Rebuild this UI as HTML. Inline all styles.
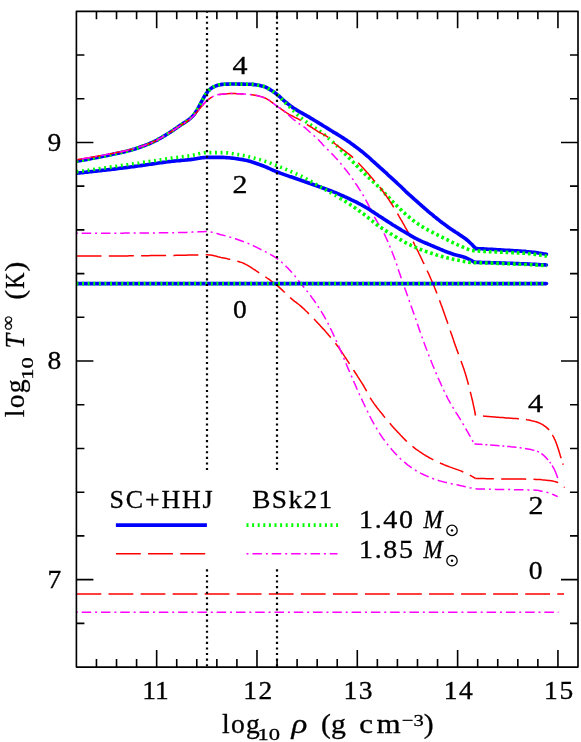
<!DOCTYPE html>
<html><head><meta charset="utf-8"><title>Cooling curves</title>
<style>html,body{margin:0;padding:0;background:#fff;}svg{display:block;will-change:transform;}text{font-family:"Liberation Serif",serif;fill:#000;}.i{font-style:italic;}</style></head><body>
<svg width="581" height="742" viewBox="0 0 581 742">
<rect x="0" y="0" width="581" height="742" fill="#ffffff"/>
<clipPath id="pc"><rect x="76.4" y="11.3" width="501.6" height="655.8"/></clipPath>
<g fill="none" stroke-linecap="butt" stroke-linejoin="round" clip-path="url(#pc)">
<path d="M76.5 161.3 L78.0 161.0 L79.5 160.8 L81.0 160.5 L82.4 160.3 L83.9 160.0 L85.4 159.7 L86.9 159.5 L88.4 159.2 L89.9 158.9 L91.4 158.6 L92.8 158.3 L94.3 158.1 L95.8 157.8 L97.3 157.5 L98.8 157.2 L100.2 156.9 L101.7 156.6 L103.2 156.3 L104.7 156.0 L106.1 155.7 L107.6 155.4 L109.1 155.1 L110.6 154.8 L112.0 154.4 L113.5 154.1 L115.0 153.8 L116.5 153.5 L118.0 153.2 L119.4 152.9 L120.9 152.6 L122.4 152.2 L123.9 151.9 L125.3 151.5 L126.8 151.2 L128.3 150.8 L129.7 150.4 L131.2 150.0 L132.6 149.6 L134.0 149.2 L135.5 148.8 L136.9 148.3 L138.4 147.8 L139.8 147.3 L141.2 146.8 L142.6 146.3 L144.1 145.8 L145.5 145.2 L146.9 144.6 L148.3 144.1 L149.7 143.5 L151.0 142.9 L152.4 142.3 L153.8 141.7 L155.1 141.0 L156.5 140.3 L157.8 139.6 L159.1 138.9 L160.4 138.2 L161.8 137.4 L163.1 136.6 L164.4 135.8 L165.7 135.1 L166.9 134.3 L168.2 133.5 L169.5 132.7 L170.8 131.9 L172.0 131.0 L173.3 130.2 L174.5 129.3 L175.8 128.5 L177.0 127.6 L178.2 126.7 L179.5 125.9 L180.7 125.0 L182.0 124.2 L183.2 123.4 L184.5 122.6 L185.8 121.7 L187.0 120.9 L188.3 120.0 L189.4 119.1 L190.6 118.1 L191.7 117.1 L192.8 116.0 L193.8 114.9 L194.7 113.7 L195.5 112.4 L196.4 111.2 L197.2 109.9 L197.9 108.6 L198.7 107.3 L199.3 105.9 L200.0 104.6 L200.7 103.2 L201.4 101.9 L202.1 100.6 L202.9 99.2 L203.6 97.9 L204.3 96.5 L205.1 95.2 L205.9 94.0 L206.8 92.8 L207.7 91.6 L208.8 90.5 L209.9 89.4 L211.1 88.4 L212.3 87.6 L213.6 86.9 L214.9 86.3 L216.4 85.7 L217.8 85.2 L219.3 84.8 L220.8 84.6 L222.3 84.4 L223.8 84.3 L225.3 84.2 L226.8 84.1 L228.3 84.1 L229.8 84.0 L231.3 84.0 L232.8 84.0 L234.4 84.0 L235.9 84.0 L237.4 84.0 L238.9 84.1 L240.4 84.1 L241.9 84.1 L243.4 84.1 L244.9 84.2 L246.4 84.2 L247.9 84.2 L249.4 84.3 L250.9 84.3 L252.5 84.4 L254.0 84.6 L255.5 84.8 L257.0 85.0 L258.5 85.3 L260.0 85.6 L261.5 85.9 L262.9 86.3 L264.3 86.6 L265.7 87.2 L267.1 87.9 L268.4 88.6 L269.7 89.4 L271.0 90.2 L272.3 91.0 L273.5 91.8 L274.8 92.7 L276.0 93.6 L277.2 94.5 L278.3 95.5 L279.5 96.5 L280.6 97.5 L281.7 98.5 L282.8 99.6 L283.9 100.6 L285.1 101.6 L286.2 102.5 L287.4 103.5 L288.6 104.4 L289.8 105.4 L291.0 106.3 L292.2 107.1 L293.4 108.0 L294.7 108.8 L296.0 109.6 L297.2 110.4 L298.5 111.2 L299.8 111.9 L301.2 112.7 L302.5 113.4 L303.8 114.1 L305.1 114.8 L306.5 115.6 L307.8 116.3 L309.1 117.1 L310.4 117.9 L311.6 118.7 L312.9 119.4 L314.2 120.2 L315.5 121.0 L316.8 121.8 L318.1 122.6 L319.4 123.4 L320.7 124.1 L322.0 124.9 L323.2 125.7 L324.5 126.5 L325.8 127.3 L327.1 128.1 L328.4 128.9 L329.7 129.7 L330.9 130.5 L332.2 131.3 L333.5 132.1 L334.8 132.8 L336.1 133.6 L337.4 134.4 L338.7 135.2 L340.0 136.0 L341.2 136.8 L342.5 137.6 L343.8 138.4 L345.0 139.2 L346.3 140.1 L347.5 140.9 L348.8 141.8 L350.0 142.6 L351.2 143.5 L352.5 144.4 L353.7 145.3 L354.9 146.2 L356.1 147.1 L357.3 148.0 L358.5 148.9 L359.7 149.8 L360.9 150.8 L362.1 151.7 L363.3 152.7 L364.4 153.6 L365.6 154.6 L366.7 155.6 L367.9 156.5 L369.0 157.5 L370.1 158.5 L371.2 159.6 L372.3 160.6 L373.5 161.6 L374.6 162.6 L375.7 163.6 L376.8 164.7 L377.9 165.7 L379.0 166.7 L380.1 167.7 L381.3 168.7 L382.4 169.7 L383.5 170.7 L384.6 171.7 L385.8 172.7 L386.9 173.7 L388.0 174.8 L389.1 175.8 L390.3 176.8 L391.4 177.8 L392.5 178.8 L393.6 179.8 L394.7 180.8 L395.8 181.9 L396.9 182.9 L398.0 184.0 L399.1 185.0 L400.2 186.0 L401.3 187.1 L402.3 188.1 L403.4 189.2 L404.5 190.2 L405.6 191.3 L406.7 192.3 L407.8 193.3 L408.9 194.3 L410.1 195.3 L411.2 196.4 L412.3 197.4 L413.4 198.4 L414.5 199.4 L415.7 200.4 L416.8 201.4 L417.9 202.4 L419.0 203.4 L420.2 204.4 L421.3 205.4 L422.4 206.4 L423.6 207.4 L424.7 208.4 L425.9 209.4 L427.0 210.3 L428.1 211.3 L429.3 212.3 L430.5 213.3 L431.6 214.2 L432.8 215.2 L433.9 216.2 L435.1 217.1 L436.3 218.0 L437.5 219.0 L438.7 219.9 L439.8 220.8 L441.0 221.8 L442.2 222.7 L443.5 223.6 L444.7 224.5 L445.9 225.4 L447.1 226.3 L448.3 227.2 L449.5 228.0 L450.8 228.9 L452.0 229.7 L453.3 230.6 L454.6 231.4 L455.8 232.2 L457.1 233.0 L458.3 233.9 L459.6 234.7 L460.8 235.6 L462.1 236.4 L463.3 237.3 L464.6 238.1 L465.8 239.0 L467.0 240.0 L468.1 240.9 L469.2 241.9 L470.3 243.0 L471.4 244.0 L472.5 245.1 L473.5 246.2 L474.5 247.3 L475.5 248.5" stroke="#0000ff" stroke-width="3.6" stroke-linecap="round"/>
<path d="M475.5 248.5 L477.0 248.6 L478.6 248.7 L480.1 248.7 L481.7 248.8 L483.2 248.9 L484.8 249.0 L486.3 249.1 L487.9 249.2 L489.4 249.2 L491.0 249.3 L492.5 249.4 L494.0 249.5 L495.6 249.6 L497.1 249.7 L498.7 249.8 L500.2 249.9 L501.8 250.0 L503.3 250.1 L504.9 250.2 L506.4 250.2 L507.9 250.3 L509.5 250.4 L511.0 250.5 L512.6 250.6 L514.1 250.7 L515.7 250.8 L517.2 250.9 L518.8 251.0 L520.3 251.1 L521.9 251.2 L523.4 251.3 L524.9 251.4 L526.5 251.6 L528.0 251.7 L529.5 251.9 L531.1 252.0 L532.6 252.2 L534.2 252.4 L535.7 252.6 L537.2 252.8 L538.8 253.1 L540.3 253.3 L541.8 253.5 L543.3 253.8 L544.9 254.0 L546.4 254.3" stroke="#0000ff" stroke-width="3.6" stroke-linecap="round"/>
<path d="M76.5 161.3 L78.0 161.0 L79.5 160.8 L81.0 160.5 L82.4 160.3 L83.9 160.0 L85.4 159.7 L86.9 159.5 L88.4 159.2 L89.9 158.9 L91.3 158.6 L92.8 158.3 L94.3 158.1 L95.8 157.8 L97.3 157.5 L98.7 157.2 L100.2 156.9 L101.7 156.6 L103.2 156.3 L104.7 156.0 L106.1 155.7 L107.6 155.4 L109.1 155.1 L110.6 154.8 L112.0 154.4 L113.5 154.1 L115.0 153.8 L116.5 153.5 L117.9 153.2 L119.4 152.9 L120.9 152.6 L122.4 152.2 L123.8 151.9 L125.3 151.5 L126.8 151.2 L128.2 150.8 L129.7 150.4 L131.1 150.0 L132.6 149.6 L134.0 149.2 L135.5 148.8 L136.9 148.3 L138.3 147.8 L139.8 147.3 L141.2 146.8 L142.6 146.3 L144.0 145.8 L145.4 145.2 L146.9 144.7 L148.3 144.1 L149.6 143.5 L151.0 142.9 L152.4 142.3 L153.7 141.7 L155.1 141.0 L156.4 140.3 L157.8 139.6 L159.1 138.9 L160.4 138.2 L161.7 137.4 L163.0 136.6 L164.3 135.9 L165.6 135.1 L166.9 134.3 L168.2 133.5 L169.5 132.7 L170.7 131.9 L172.0 131.1 L173.2 130.2 L174.5 129.4 L175.7 128.5 L177.0 127.6 L178.2 126.8 L179.4 125.9 L180.7 125.1 L181.9 124.2 L183.2 123.4 L184.5 122.6 L185.8 121.8 L187.0 120.9 L188.2 120.0 L189.4 119.1 L190.6 118.1 L191.7 117.1 L192.8 116.1 L193.7 114.9 L194.6 113.7 L195.5 112.5 L196.3 111.2 L197.1 109.9 L197.9 108.6 L198.6 107.3 L199.3 106.0 L200.0 104.6 L200.7 103.3 L201.4 101.9 L202.1 100.6 L202.8 99.3 L203.6 97.9 L204.3 96.6 L205.1 95.3 L205.9 94.0 L206.7 92.8 L207.7 91.7 L208.7 90.6 L209.8 89.5 L211.0 88.5 L212.3 87.6 L213.5 86.9 L214.9 86.3 L216.3 85.7 L217.8 85.2 L219.2 84.8 L220.7 84.6 L222.2 84.4 L223.7 84.3 L225.2 84.2 L226.7 84.1 L228.2 84.1 L229.7 84.0 L231.3 84.0 L232.8 84.0 L234.3 84.0 L235.8 84.0 L237.3 84.0 L238.8 84.0 L240.3 84.1 L241.8 84.1 L243.3 84.1 L244.8 84.2 L246.4 84.2 L247.9 84.2 L249.4 84.3 L250.9 84.3 L252.4 84.4 L253.9 84.6 L255.4 84.8 L256.9 85.0 L258.4 85.3 L259.9 85.6 L261.4 85.9 L262.8 86.2 L264.2 86.6 L265.6 87.1 L267.0 87.8 L268.3 88.6 L269.6 89.4 L270.9 90.1 L272.2 90.9 L273.5 91.8 L274.7 92.6 L275.9 93.5 L277.1 94.5 L278.2 95.4 L279.3 96.5 L280.3 97.6 L281.4 98.7 L282.4 99.8 L283.4 101.0 L284.4 102.0 L285.5 103.1 L286.6 104.1 L287.7 105.2 L288.8 106.2 L289.9 107.2 L291.0 108.2 L292.1 109.3 L293.2 110.4 L294.2 111.5 L295.3 112.5 L296.3 113.6 L297.4 114.7 L298.5 115.7 L299.7 116.7 L300.8 117.6 L302.0 118.6 L303.2 119.5 L304.4 120.4 L305.6 121.4 L306.8 122.2 L308.0 123.1 L309.2 124.0 L310.5 124.8 L311.7 125.7 L313.0 126.5 L314.2 127.4 L315.5 128.2 L316.7 129.1 L317.9 130.0 L319.2 130.9 L320.4 131.8 L321.6 132.7 L322.8 133.6 L324.0 134.5 L325.2 135.4 L326.3 136.4 L327.5 137.3 L328.6 138.3 L329.8 139.3 L330.9 140.3 L332.0 141.3 L333.1 142.3 L334.2 143.4 L335.3 144.4 L336.4 145.4 L337.5 146.5 L338.6 147.5 L339.6 148.6 L340.7 149.7" stroke="#00ff00" stroke-width="3.6" stroke-dasharray="1.9 3.7" stroke-dashoffset="0.00"/>
<path d="M340.7 149.7 L341.8 150.7 L342.9 151.8 L343.9 152.9 L345.0 153.9 L346.1 155.0 L347.1 156.1 L348.2 157.1 L349.3 158.2 L350.4 159.2 L351.4 160.3 L352.5 161.4 L353.5 162.5 L354.6 163.5 L355.7 164.6 L356.7 165.7 L357.8 166.8 L358.8 167.8 L359.9 168.9 L360.9 170.0 L362.0 171.0 L363.1 172.1 L364.2 173.2 L365.2 174.2 L366.3 175.3 L367.4 176.3 L368.5 177.3 L369.6 178.4 L370.7 179.4 L371.8 180.4 L372.9 181.4 L374.0 182.5 L375.1 183.5 L376.2 184.5 L377.3 185.6 L378.4 186.6 L379.5 187.7 L380.5 188.7 L381.6 189.8 L382.6 190.9 L383.7 192.0 L384.7 193.1 L385.7 194.2 L386.8 195.3 L387.8 196.4 L388.8 197.5 L389.9 198.6 L390.9 199.7 L391.9 200.8 L393.0 201.9 L394.1 203.0 L395.1 204.0 L396.2 205.1 L397.2 206.2 L398.3 207.2 L399.4 208.3 L400.5 209.4 L401.6 210.4 L402.6 211.5 L403.7 212.5 L404.9 213.5 L406.0 214.5 L407.1 215.5 L408.3 216.4 L409.4 217.4 L410.6 218.4 L411.8 219.3 L413.0 220.2 L414.2 221.1 L415.4 222.0 L416.6 222.9 L417.9 223.8 L419.1 224.7 L420.4 225.5 L421.6 226.3 L422.9 227.1 L424.2 227.9 L425.5 228.6 L426.8 229.3 L428.1 230.1 L429.5 230.8 L430.8 231.5 L432.2 232.2 L433.5 232.9 L434.8 233.6 L436.2 234.3 L437.5 234.9 L438.9 235.6 L440.2 236.3 L441.6 237.0 L442.9 237.6 L444.3 238.3 L445.6 239.0 L447.0 239.6 L448.3 240.3 L449.7 241.0 L451.0 241.6 L452.4 242.3 L453.7 243.0 L455.1 243.6 L456.5 244.3 L457.8 244.9 L459.2 245.5 L460.6 246.1 L462.0 246.7 L463.4 247.3 L464.8 247.9 L466.2 248.5 L467.6 249.1 L469.1 249.6 L470.5 250.0 L471.9 250.4 L473.4 250.6 L474.9 250.8 L476.3 250.9 L477.8 251.0 L479.3 251.1 L480.8 251.2 L482.4 251.3 L483.9 251.4 L485.4 251.5 L486.9 251.5 L488.4 251.6 L489.9 251.7 L491.4 251.8 L493.0 251.9 L494.5 251.9 L496.0 252.0 L497.5 252.1 L499.0 252.1 L500.5 252.2 L502.0 252.3 L503.5 252.3 L505.0 252.4 L506.5 252.4 L508.0 252.5 L509.5 252.6 L511.0 252.6 L512.6 252.7 L514.1 252.7 L515.6 252.8 L517.1 252.9 L518.6 253.0 L520.1 253.0 L521.6 253.1 L523.1 253.2 L524.6 253.3 L526.1 253.4 L527.6 253.5 L529.1 253.7 L530.6 253.8 L532.1 254.0 L533.6 254.2 L535.1 254.4 L536.6 254.6 L538.1 254.8 L539.5 255.0 L541.0 255.3 L542.5 255.5 L544.0 255.8 L545.5 256.0 L547.0 256.3" stroke="#00ff00" stroke-width="3.6" stroke-dasharray="2.7 2.9" stroke-dashoffset="0.29"/>
<path d="M76.5 159.8 L78.0 159.6 L79.5 159.3 L81.0 159.1 L82.4 158.8 L83.9 158.6 L85.4 158.3 L86.9 158.1 L88.4 157.8 L89.9 157.6 L91.3 157.3 L92.8 157.1 L94.3 156.8 L95.8 156.5 L97.3 156.3 L98.7 156.0 L100.2 155.7 L101.7 155.4 L103.2 155.2 L104.7 154.9 L106.1 154.6 L107.6 154.3 L109.1 154.0 L110.6 153.7 L112.0 153.5 L113.5 153.2 L115.0 152.9 L116.5 152.6 L117.9 152.3 L119.4 152.0 L120.9 151.7 L122.4 151.4 L123.9 151.1 L125.3 150.8 L126.8 150.5 L128.3 150.1 L129.7 149.8 L131.2 149.4 L132.6 149.0 L134.1 148.6 L135.5 148.2 L137.0 147.8 L138.4 147.4 L139.9 146.9 L141.3 146.5 L142.7 146.0 L144.2 145.5 L145.6 145.0 L147.0 144.5 L148.4 143.9 L149.8 143.4 L151.2 142.8 L152.5 142.2 L153.9 141.6 L155.3 141.0 L156.6 140.3 L157.9 139.6 L159.2 138.9 L160.5 138.1 L161.9 137.4 L163.2 136.6 L164.4 135.8 L165.7 135.0 L167.0 134.2 L168.3 133.4 L169.6 132.6 L170.9 131.8 L172.1 131.0 L173.4 130.2 L174.6 129.4 L175.9 128.5 L177.1 127.7 L178.4 126.9 L179.6 126.0 L180.9 125.2 L182.2 124.4 L183.4 123.6 L184.7 122.8 L186.0 122.0 L187.3 121.2 L188.5 120.3 L189.7 119.5 L190.9 118.5 L192.0 117.5 L193.0 116.4 L194.0 115.3 L195.0 114.2 L196.0 113.0 L197.0 111.9 L198.0 110.8 L199.0 109.6 L199.9 108.4 L200.9 107.3 L201.9 106.1 L202.9 105.0 L203.9 103.8 L204.9 102.7 L205.9 101.6 L207.0 100.6 L208.1 99.7 L209.3 98.8 L210.6 97.9 L211.9 97.1 L213.2 96.4 L214.6 95.7 L216.0 95.1 L217.4 94.8 L218.9 94.5 L220.3 94.4 L221.8 94.2 L223.3 94.0 L224.8 93.9 L226.4 93.8 L227.9 93.7 L229.4 93.6 L230.9 93.6 L232.4 93.6 L233.9 93.6 L235.4 93.6 L236.9 93.7 L238.4 93.7 L239.9 93.8 L241.4 93.9 L242.9 94.0 L244.4 94.1 L245.9 94.2 L247.4 94.3 L248.9 94.4 L250.4 94.5 L251.9 94.7 L253.4 94.9 L254.9 95.2 L256.4 95.5 L257.9 95.8 L259.4 96.2 L260.9 96.6 L262.3 97.0 L263.7 97.5 L265.0 98.0 L266.3 98.6 L267.6 99.3 L268.9 100.1 L270.1 101.0 L271.3 101.9 L272.6 102.8 L273.8 103.8 L275.0 104.7 L276.3 105.6 L277.5 106.5 L278.7 107.3 L280.0 108.2 L281.2 109.1 L282.4 109.9 L283.7 110.8 L284.9 111.6 L286.2 112.5 L287.4 113.3 L288.7 114.1 L290.0 114.8 L291.3 115.5 L292.7 116.2 L294.0 116.9 L295.4 117.6 L296.7 118.2 L298.1 118.9 L299.4 119.7 L300.7 120.4 L301.9 121.2 L303.2 122.0 L304.5 122.8 L305.7 123.7 L307.0 124.5 L308.3 125.3 L309.5 126.1 L310.8 126.9 L312.1 127.7 L313.3 128.6 L314.6 129.4 L315.9 130.2 L317.1 131.0 L318.4 131.8 L319.7 132.5 L321.0 133.2 L322.4 133.9 L323.8 134.6 L325.1 135.3 L326.4 136.1 L327.6 136.9 L328.8 137.8 L329.9 138.8 L331.0 139.9 L332.0 141.0 L333.0 142.1 L334.2 143.1 L335.3 144.0 L336.5 145.0 L337.7 145.9 L338.9 146.8 L340.1 147.7 L341.3 148.6 L342.5 149.4 L343.8 150.3 L345.0 151.2 L346.2 152.1 L347.4 153.0 L348.6 153.9 L349.8 154.8 L351.0 155.8 L352.1 156.7 L353.2 157.8 L354.3 158.8 L355.4 159.9 L356.4 160.9 L357.5 162.0 L358.5 163.1 L359.5 164.2 L360.6 165.3 L361.6 166.4 L362.6 167.5 L363.6 168.6 L364.6 169.7 L365.6 170.8 L366.7 172.0 L367.7 173.1 L368.7 174.2 L369.6 175.3 L370.6 176.5 L371.6 177.6 L372.6 178.7 L373.6 179.9 L374.6 181.0 L375.6 182.1 L376.6 183.3 L377.6 184.4 L378.6 185.5 L379.5 186.7 L380.4 187.9 L381.4 189.1 L382.3 190.3 L383.1 191.5 L384.0 192.7 L384.9 193.9 L385.8 195.2 L386.6 196.4 L387.4 197.6 L388.3 198.9 L389.1 200.2 L389.9 201.4 L390.8 202.7 L391.6 204.0 L392.4 205.2 L393.2 206.5 L394.0 207.8 L394.8 209.1 L395.5 210.3 L396.3 211.6 L397.1 212.9 L397.8 214.2 L398.6 215.5 L399.3 216.8 L400.1 218.1 L400.8 219.4 L401.6 220.7 L402.4 222.0 L403.1 223.3 L403.9 224.7 L404.6 226.0 L405.3 227.3 L406.1 228.6 L406.8 229.9 L407.5 231.2 L408.3 232.5 L409.0 233.8 L409.7 235.2 L410.4 236.5 L411.1 237.8 L411.8 239.2 L412.5 240.5 L413.2 241.8 L413.9 243.2 L414.5 244.5 L415.2 245.9 L415.9 247.2 L416.6 248.6 L417.2 249.9 L417.9 251.2 L418.6 252.6 L419.2 254.0 L419.9 255.3 L420.5 256.7 L421.2 258.0 L421.8 259.4 L422.5 260.7 L423.1 262.1 L423.8 263.4 L424.4 264.8 L425.1 266.2 L425.7 267.5 L426.3 268.9 L427.0 270.2 L427.6 271.6 L428.3 273.0 L428.9 274.3 L429.5 275.7 L430.1 277.1 L430.7 278.5 L431.3 279.8 L431.9 281.2 L432.5 282.6 L433.1 284.0 L433.7 285.4 L434.3 286.8 L434.8 288.1 L435.4 289.5 L435.9 290.9 L436.5 292.3 L437.0 293.7 L437.6 295.2 L438.1 296.6 L438.6 298.0 L439.2 299.4 L439.7 300.8 L440.2 302.2 L440.7 303.6 L441.2 305.0 L441.8 306.4 L442.3 307.8 L442.8 309.3 L443.3 310.7 L443.8 312.1 L444.3 313.5 L444.8 314.9 L445.3 316.3 L445.8 317.8 L446.3 319.2 L446.8 320.6 L447.3 322.0 L447.8 323.4 L448.3 324.9 L448.8 326.3 L449.3 327.7 L449.8 329.1 L450.3 330.5 L450.7 332.0 L451.2 333.4 L451.7 334.8 L452.2 336.2 L452.7 337.7 L453.2 339.1 L453.6 340.5 L454.1 341.9 L454.6 343.4 L455.1 344.8 L455.6 346.2 L456.1 347.6 L456.6 349.0 L457.1 350.4 L457.7 351.9 L458.2 353.3 L458.7 354.7 L459.2 356.1 L459.8 357.5 L460.3 358.9 L460.8 360.3 L461.3 361.7 L461.8 363.2 L462.3 364.6 L462.8 366.0 L463.3 367.4 L463.8 368.8 L464.3 370.3 L464.7 371.7 L465.2 373.1 L465.6 374.6 L466.1 376.0 L466.5 377.5 L466.9 378.9 L467.3 380.3 L467.7 381.8 L468.1 383.2 L468.5 384.7 L468.8 386.2 L469.2 387.6 L469.6 389.1 L470.0 390.5 L470.3 392.0 L470.7 393.4 L471.1 394.9 L471.4 396.4 L471.8 397.8 L472.1 399.3 L472.5 400.7 L472.8 402.2 L473.1 403.7 L473.4 405.2 L473.8 406.6 L474.1 408.1 L474.4 409.6 L474.7 411.1 L474.9 412.5 L475.2 414.0 L475.5 415.5" stroke="#ff0000" stroke-width="1.5" stroke-dasharray="24.9 7.28" stroke-dashoffset="0.00"/>
<path d="M475.5 415.5 L477.0 415.6 L478.5 415.7 L480.0 415.9 L481.6 416.0 L483.1 416.1 L484.6 416.2 L486.1 416.3 L487.6 416.5 L489.1 416.6 L490.7 416.7 L492.2 416.8 L493.7 416.9 L495.2 417.0 L496.7 417.2 L498.2 417.3 L499.8 417.4 L501.3 417.5 L502.8 417.6 L504.3 417.7 L505.8 417.9 L507.3 418.0 L508.9 418.1 L510.4 418.2 L511.9 418.2 L513.4 418.4 L514.9 418.5 L516.5 418.6 L518.0 418.7 L519.5 418.8 L521.0 419.0 L522.5 419.1 L524.0 419.3 L525.5 419.5 L527.0 419.8 L528.6 420.0 L530.1 420.3 L531.6 420.7 L533.1 421.0 L534.5 421.4 L536.0 421.8 L537.4 422.3 L538.8 422.8 L540.2 423.4 L541.6 424.1 L543.0 424.9 L544.3 425.8 L545.5 426.7 L546.7 427.6 L547.8 428.6 L548.8 429.6 L549.7 430.8 L550.6 432.0 L551.5 433.3 L552.3 434.6 L553.0 436.0 L553.8 437.4 L554.4 438.8 L555.1 440.2 L555.7 441.5 L556.2 442.9 L556.7 444.3 L557.2 445.8 L557.7 447.2 L558.2 448.7 L558.6 450.1 L559.1 451.6 L559.5 453.1 L560.0 454.5 L560.4 456.0 L560.9 457.5 L561.3 458.9 L561.8 460.4 L562.3 461.8 L562.7 463.3 L563.2 464.7" stroke="#ff0000" stroke-width="1.5" stroke-dasharray="0 7.6 36 7 26 6 25 5.5 2 60" stroke-dashoffset="0.00"/>
<path d="M76.5 159.8 L78.0 159.6 L79.5 159.3 L81.0 159.1 L82.4 158.8 L83.9 158.6 L85.4 158.3 L86.9 158.1 L88.4 157.8 L89.9 157.6 L91.4 157.3 L92.8 157.1 L94.3 156.8 L95.8 156.5 L97.3 156.3 L98.8 156.0 L100.2 155.7 L101.7 155.4 L103.2 155.2 L104.7 154.9 L106.2 154.6 L107.6 154.3 L109.1 154.0 L110.6 153.7 L112.1 153.5 L113.5 153.2 L115.0 152.9 L116.5 152.6 L118.0 152.3 L119.5 152.0 L120.9 151.7 L122.4 151.4 L123.9 151.1 L125.4 150.8 L126.8 150.5 L128.3 150.1 L129.8 149.8 L131.2 149.4 L132.7 149.0 L134.1 148.6 L135.6 148.2 L137.0 147.8 L138.5 147.4 L139.9 146.9 L141.3 146.4 L142.8 146.0 L144.2 145.5 L145.6 145.0 L147.0 144.4 L148.5 143.9 L149.9 143.3 L151.2 142.8 L152.6 142.2 L154.0 141.6 L155.3 140.9 L156.7 140.3 L158.0 139.6 L159.3 138.8 L160.6 138.1 L161.9 137.3 L163.2 136.5 L164.5 135.8 L165.8 135.0 L167.1 134.2 L168.4 133.4 L169.7 132.6 L170.9 131.8 L172.2 131.0 L173.5 130.2 L174.7 129.3 L176.0 128.5 L177.2 127.7 L178.5 126.8 L179.7 126.0 L181.0 125.1 L182.2 124.3 L183.5 123.5 L184.8 122.7 L186.1 121.9 L187.4 121.1 L188.6 120.3 L189.8 119.4 L190.9 118.4 L192.0 117.4 L193.1 116.3 L194.1 115.2 L195.1 114.1 L196.1 112.9 L197.1 111.8 L198.1 110.7 L199.0 109.5 L200.0 108.3 L201.0 107.2 L202.0 106.1 L202.9 104.9 L203.9 103.8 L204.9 102.6 L206.0 101.5 L207.1 100.5 L208.2 99.6 L209.4 98.7 L210.7 97.8 L212.0 97.0 L213.3 96.3 L214.7 95.7 L216.1 95.1 L217.5 94.7 L219.0 94.5 L220.5 94.3 L222.0 94.2 L223.5 94.0 L225.0 93.9 L226.5 93.8 L228.0 93.7 L229.5 93.6 L231.0 93.6 L232.5 93.6 L234.0 93.6 L235.6 93.7 L237.1 93.7 L238.6 93.8 L240.1 93.8 L241.6 93.9 L243.1 94.0 L244.6 94.1 L246.1 94.2 L247.6 94.3 L249.1 94.4 L250.6 94.6 L252.1 94.7 L253.6 94.9 L255.1 95.2 L256.6 95.5 L258.1 95.9 L259.6 96.2 L261.0 96.6 L262.4 97.1 L263.8 97.5 L265.2 98.0 L266.5 98.7 L267.8 99.4 L269.0 100.2 L270.3 101.1 L271.5 102.0 L272.7 102.9 L274.0 103.9 L275.2 104.8 L276.4 105.7 L277.6 106.6 L278.9 107.5 L280.1 108.3 L281.3 109.2 L282.6 110.1 L283.8 111.0 L284.9 111.9 L286.1 112.9 L287.2 113.9 L288.3 114.9 L289.5 115.9 L290.6 116.9 L291.7 117.9 L292.9 118.8 L294.1 119.8 L295.2 120.7 L296.4 121.7 L297.6 122.6 L298.8 123.5 L300.1 124.3 L301.3 125.2 L302.6 126.0 L303.8 126.8 L305.0 127.7 L306.2 128.7 L307.3 129.7 L308.4 130.7 L309.5 131.7 L310.6 132.7 L311.7 133.8 L312.9 134.8 L314.0 135.8 L315.1 136.8 L316.2 137.8 L317.4 138.8 L318.4 139.8 L319.5 140.9 L320.5 142.0 L321.5 143.1 L322.5 144.3 L323.5 145.4 L324.5 146.5 L325.5 147.6 L326.6 148.7 L327.7 149.7 L328.9 150.7 L329.9 151.7 L331.0 152.8 L332.0 153.9 L333.1 155.0 L334.1 156.1 L335.1 157.2 L336.1 158.3 L337.2 159.4 L338.2 160.6 L339.1 161.7 L340.1 162.8 L341.1 164.0 L342.1 165.1 L343.0 166.3 L344.0 167.5 L344.9 168.7 L345.8 169.8 L346.8 171.0 L347.7 172.2 L348.6 173.4 L349.5 174.6 L350.3 175.8 L351.2 177.1 L352.1 178.3 L353.0 179.5 L353.8 180.8 L354.7 182.0 L355.5 183.3 L356.3 184.5 L357.2 185.8 L358.0 187.0 L358.8 188.3 L359.6 189.6 L360.4 190.9 L361.2 192.2 L362.0 193.4 L362.8 194.7 L363.5 196.0 L364.3 197.3 L365.0 198.6 L365.8 199.9 L366.5 201.3 L367.2 202.6 L367.9 203.9 L368.6 205.3 L369.2 206.6 L369.9 208.0 L370.6 209.3 L371.2 210.7 L371.9 212.0 L372.6 213.4 L373.3 214.7 L374.0 216.0 L374.7 217.4 L375.4 218.7 L376.2 220.0 L377.0 221.3 L377.8 222.6 L378.6 223.8 L379.4 225.1 L380.2 226.4 L381.0 227.7 L381.7 229.0 L382.4 230.3 L383.1 231.6 L383.8 232.9 L384.5 234.3 L385.1 235.6 L385.7 237.0 L386.4 238.4 L387.0 239.7 L387.6 241.1 L388.2 242.5 L388.8 243.9 L389.4 245.3 L390.0 246.7 L390.6 248.1 L391.1 249.5 L391.7 250.9 L392.2 252.3 L392.8 253.7 L393.3 255.1 L393.9 256.5 L394.4 257.9 L394.9 259.3 L395.4 260.7 L395.9 262.1 L396.4 263.6 L396.9 265.0 L397.4 266.4 L397.8 267.9 L398.3 269.3 L398.7 270.7 L399.2 272.2 L399.7 273.6 L400.2 275.0 L400.7 276.4 L401.2 277.9 L401.7 279.3 L402.1 280.7 L402.6 282.1 L403.1 283.5 L403.6 285.0 L404.1 286.4 L404.6 287.8 L405.1 289.2 L405.7 290.6 L406.2 292.1 L406.7 293.5 L407.2 294.9 L407.7 296.3 L408.2 297.7 L408.7 299.1 L409.2 300.6 L409.7 302.0 L410.2 303.4 L410.7 304.8 L411.2 306.2 L411.7 307.7 L412.2 309.1 L412.7 310.5 L413.2 311.9 L413.7 313.3 L414.2 314.8 L414.7 316.2 L415.2 317.6 L415.7 319.0 L416.2 320.4 L416.7 321.9 L417.2 323.3 L417.7 324.7 L418.2 326.1 L418.6 327.6 L419.1 329.0 L419.6 330.4 L420.1 331.8 L420.6 333.2 L421.1 334.7 L421.6 336.1 L422.2 337.5 L422.7 338.9 L423.2 340.3 L423.7 341.7 L424.2 343.1 L424.7 344.6 L425.3 346.0 L425.8 347.4 L426.3 348.8 L426.9 350.2 L427.4 351.6 L428.0 353.0 L428.5 354.4 L429.0 355.8 L429.6 357.2 L430.1 358.6 L430.7 360.0 L431.3 361.4 L431.8 362.8 L432.4 364.2 L432.9 365.6 L433.5 367.0 L434.1 368.4 L434.7 369.8 L435.3 371.2 L435.8 372.5 L436.4 373.9 L437.0 375.3 L437.6 376.7 L438.2 378.1 L438.8 379.4 L439.4 380.8 L440.1 382.2 L440.7 383.6 L441.3 385.0 L441.9 386.3 L442.6 387.7 L443.2 389.1 L443.8 390.4 L444.5 391.8 L445.1 393.1 L445.8 394.5 L446.5 395.8 L447.2 397.2 L447.8 398.5 L448.5 399.8 L449.3 401.2 L450.0 402.5 L450.7 403.8 L451.5 405.1 L452.2 406.4 L453.0 407.7 L453.8 408.9 L454.6 410.2 L455.4 411.5 L456.2 412.8 L457.0 414.0 L457.8 415.3 L458.6 416.6 L459.4 417.9 L460.2 419.2 L461.0 420.5 L461.8 421.7 L462.5 423.0 L463.3 424.3 L464.0 425.6 L464.8 427.0 L465.5 428.3 L466.3 429.6 L467.0 430.9 L467.8 432.2 L468.5 433.5 L469.3 434.8 L470.0 436.1 L470.7 437.4 L471.5 438.7 L472.2 440.0 L472.9 441.4 L473.7 442.7 L474.4 444.0" stroke="#ff00ff" stroke-width="1.5" stroke-dasharray="2 3.89 9.5 3.89" stroke-dashoffset="0.70"/>
<path d="M474.4 444.0 L475.9 444.1 L477.5 444.2 L479.0 444.3 L480.5 444.3 L482.0 444.4 L483.6 444.5 L485.1 444.6 L486.6 444.8 L488.1 444.9 L489.7 445.0 L491.2 445.1 L492.7 445.2 L494.2 445.3 L495.8 445.5 L497.3 445.6 L498.8 445.7 L500.3 445.8 L501.9 446.0 L503.4 446.1 L504.9 446.2 L506.4 446.4 L508.0 446.5 L509.5 446.6 L511.0 446.8 L512.5 446.9 L514.1 447.1 L515.6 447.3 L517.1 447.4 L518.6 447.6 L520.2 447.8 L521.7 448.0 L523.2 448.2 L524.7 448.5 L526.2 448.7 L527.8 448.9 L529.3 449.2 L530.9 449.5 L532.4 449.9 L533.9 450.2 L535.3 450.6 L536.7 451.1 L538.0 451.6 L539.4 452.2 L540.6 453.0 L541.9 453.9 L543.1 454.9 L544.3 456.0 L545.5 457.1 L546.5 458.3 L547.6 459.4 L548.6 460.5 L549.5 461.7 L550.4 462.9 L551.3 464.2 L552.2 465.5 L552.9 466.8 L553.7 468.2 L554.4 469.5 L555.0 470.9 L555.6 472.3 L556.2 473.7 L556.7 475.2 L557.2 476.6 L557.7 478.1" stroke="#ff00ff" stroke-width="1.5" stroke-dasharray="8.2 2.8 2 2.8 9.4 2.8 2 2.8 9.4 3.2 2 3.4 9.6 2.9 2 2.8 9.4 2.5 1.8 2.5 30 30" stroke-dashoffset="0.00"/>
<path d="M76.5 173.2 L78.0 173.0 L79.5 172.9 L81.0 172.7 L82.5 172.6 L84.0 172.4 L85.5 172.3 L87.0 172.1 L88.5 171.9 L90.0 171.8 L91.5 171.6 L93.0 171.5 L94.5 171.3 L96.0 171.1 L97.5 171.0 L99.0 170.8 L100.5 170.6 L102.0 170.4 L103.5 170.3 L105.0 170.1 L106.5 169.9 L107.9 169.8 L109.4 169.6 L110.9 169.4 L112.4 169.2 L113.9 169.1 L115.4 168.9 L116.9 168.7 L118.4 168.5 L119.9 168.3 L121.4 168.1 L122.9 168.0 L124.4 167.8 L125.9 167.6 L127.4 167.4 L128.9 167.2 L130.4 167.0 L131.9 166.8 L133.4 166.6 L134.9 166.4 L136.4 166.2 L137.8 166.0 L139.3 165.8 L140.8 165.6 L142.3 165.4 L143.8 165.1 L145.3 164.9 L146.8 164.7 L148.3 164.5 L149.8 164.3 L151.3 164.1 L152.8 163.9 L154.3 163.7 L155.7 163.5 L157.2 163.3 L158.7 163.0 L160.2 162.8 L161.7 162.6 L163.2 162.4 L164.7 162.2 L166.2 162.0 L167.7 161.8 L169.2 161.6 L170.7 161.5 L172.2 161.3 L173.7 161.1 L175.2 161.0 L176.7 160.8 L178.2 160.7 L179.7 160.6 L181.2 160.4 L182.7 160.3 L184.2 160.2 L185.7 160.0 L187.2 159.9 L188.7 159.7 L190.2 159.6 L191.7 159.4 L193.2 159.2 L194.7 158.9 L196.1 158.7 L197.6 158.4 L199.1 158.2 L200.6 157.9 L202.1 157.7 L203.6 157.6 L205.1 157.5 L206.6 157.4 L208.1 157.4 L209.6 157.4 L211.1 157.4 L212.6 157.4 L214.1 157.4 L215.6 157.4 L217.1 157.4 L218.7 157.4 L220.2 157.4 L221.7 157.4 L223.2 157.4 L224.7 157.5 L226.2 157.6 L227.7 157.7 L229.2 157.8 L230.7 158.0 L232.2 158.1 L233.7 158.3 L235.2 158.5 L236.7 158.7 L238.2 158.9 L239.7 159.2 L241.2 159.4 L242.6 159.6 L244.1 159.9 L245.6 160.2 L247.0 160.5 L248.5 160.9 L249.9 161.3 L251.4 161.8 L252.8 162.2 L254.3 162.7 L255.7 163.2 L257.1 163.7 L258.6 164.2 L260.0 164.8 L261.4 165.3 L262.8 165.8 L264.2 166.3 L265.6 166.9 L267.0 167.5 L268.4 168.1 L269.7 168.7 L271.1 169.3 L272.5 170.0 L273.9 170.6 L275.3 171.2 L276.6 171.8 L278.0 172.3 L279.5 172.8 L280.9 173.4 L282.3 173.9 L283.7 174.4 L285.1 174.9 L286.5 175.4 L288.0 175.9 L289.4 176.4 L290.8 176.8 L292.3 177.3 L293.7 177.8 L295.1 178.3 L296.5 178.8 L298.0 179.3 L299.4 179.7 L300.8 180.2 L302.2 180.7 L303.7 181.2 L305.1 181.7 L306.5 182.2 L307.9 182.7 L309.3 183.2 L310.8 183.7 L312.2 184.2 L313.6 184.7 L315.0 185.2 L316.5 185.7 L317.9 186.2 L319.3 186.7 L320.7 187.2 L322.1 187.7 L323.6 188.2 L325.0 188.7 L326.4 189.2 L327.8 189.7 L329.2 190.2 L330.6 190.8 L332.1 191.3 L333.5 191.9 L334.8 192.4 L336.2 193.0 L337.6 193.6 L339.0 194.2 L340.4 194.8 L341.8 195.4 L343.2 196.0 L344.5 196.6 L345.9 197.2 L347.3 197.8 L348.6 198.5 L350.0 199.1 L351.4 199.8 L352.7 200.4 L354.1 201.1 L355.4 201.7 L356.8 202.4 L358.1 203.1 L359.5 203.8 L360.8 204.5 L362.1 205.2 L363.4 206.0 L364.7 206.7 L366.0 207.5 L367.3 208.2 L368.6 209.0 L369.9 209.8 L371.1 210.7 L372.4 211.5 L373.7 212.3 L374.9 213.2 L376.2 214.0 L377.4 214.8 L378.7 215.7 L380.0 216.5 L381.2 217.3 L382.5 218.1 L383.7 218.9 L385.0 219.8 L386.3 220.6 L387.5 221.4 L388.8 222.2 L390.1 223.0 L391.3 223.8 L392.6 224.7 L393.9 225.5 L395.2 226.2 L396.4 227.0 L397.7 227.8 L399.0 228.6 L400.3 229.4 L401.6 230.2 L402.9 231.0 L404.2 231.7 L405.5 232.5 L406.8 233.3 L408.1 234.0 L409.4 234.8 L410.7 235.6 L412.0 236.3 L413.3 237.1 L414.6 237.8 L415.9 238.5 L417.2 239.2 L418.6 239.9 L419.9 240.5 L421.3 241.2 L422.7 241.8 L424.1 242.4 L425.5 243.0 L426.9 243.5 L428.2 244.1 L429.6 244.7 L431.0 245.3 L432.4 245.9 L433.8 246.5 L435.2 247.1 L436.6 247.7 L438.0 248.3 L439.4 248.8 L440.7 249.4 L442.1 250.0 L443.5 250.6 L444.9 251.2 L446.3 251.7 L447.7 252.3 L449.1 252.8 L450.6 253.3 L452.0 253.8 L453.4 254.3 L454.8 254.7 L456.3 255.1 L457.8 255.4 L459.3 255.8 L460.7 256.2 L462.2 256.6 L463.6 257.0 L465.0 257.5 L466.4 258.0 L467.8 258.7 L469.1 259.3 L470.5 260.0 L471.8 260.7 L473.1 261.5 L474.4 262.3" stroke="#0000ff" stroke-width="3.6" stroke-linecap="round"/>
<path d="M474.4 262.3 L475.9 262.3 L477.5 262.4 L479.0 262.4 L480.5 262.4 L482.1 262.5 L483.6 262.5 L485.1 262.5 L486.7 262.6 L488.2 262.6 L489.7 262.6 L491.3 262.7 L492.8 262.7 L494.3 262.8 L495.9 262.8 L497.4 262.9 L498.9 262.9 L500.5 263.0 L502.0 263.0 L503.5 263.1 L505.1 263.1 L506.6 263.2 L508.1 263.2 L509.6 263.3 L511.2 263.3 L512.7 263.4 L514.2 263.5 L515.8 263.5 L517.3 263.6 L518.8 263.6 L520.4 263.7 L521.9 263.8 L523.4 263.8 L525.0 263.9 L526.5 263.9 L528.0 264.0 L529.6 264.1 L531.1 264.2 L532.6 264.2 L534.2 264.3 L535.7 264.4 L537.2 264.5 L538.7 264.6 L540.3 264.7 L541.8 264.7 L543.3 264.8 L544.9 264.9 L546.4 265.0" stroke="#0000ff" stroke-width="3.6" stroke-linecap="round"/>
<path d="M76.5 171.8 L78.0 171.6 L79.5 171.4 L81.0 171.2 L82.5 171.0 L84.0 170.8 L85.5 170.6 L86.9 170.4 L88.4 170.2 L89.9 169.9 L91.4 169.7 L92.9 169.5 L94.4 169.3 L95.9 169.1 L97.4 168.9 L98.9 168.7 L100.4 168.5 L101.9 168.3 L103.4 168.1 L104.9 167.9 L106.3 167.7 L107.8 167.4 L109.3 167.2 L110.8 167.0 L112.3 166.8 L113.8 166.6 L115.3 166.4 L116.8 166.2 L118.3 166.0 L119.8 165.8 L121.3 165.5 L122.7 165.3 L124.2 165.1 L125.7 164.9 L127.2 164.7 L128.7 164.5 L130.2 164.3 L131.7 164.0 L133.2 163.8 L134.7 163.6 L136.2 163.4 L137.7 163.2 L139.2 163.0 L140.6 162.7 L142.1 162.5 L143.6 162.3 L145.1 162.1 L146.6 161.9 L148.1 161.7 L149.6 161.4 L151.1 161.2 L152.6 161.0 L154.1 160.8 L155.5 160.6 L157.0 160.3 L158.5 160.1 L160.0 159.9 L161.5 159.7 L163.0 159.4 L164.5 159.2 L166.0 159.0 L167.5 158.8 L169.0 158.6 L170.4 158.4 L171.9 158.1 L173.4 157.9 L174.9 157.7 L176.4 157.6 L177.9 157.4 L179.4 157.2 L180.9 157.0 L182.4 156.8 L183.9 156.6 L185.4 156.4 L186.9 156.2 L188.4 156.0 L189.9 155.8 L191.4 155.6 L192.8 155.3 L194.3 154.9 L195.8 154.6 L197.3 154.2 L198.7 153.8 L200.2 153.5 L201.7 153.2 L203.2 152.9 L204.7 152.7 L206.1 152.6 L207.6 152.6 L209.1 152.6 L210.6 152.6 L212.2 152.6 L213.7 152.6 L215.2 152.6 L216.7 152.6 L218.2 152.6 L219.7 152.6 L221.2 152.6 L222.7 152.6 L224.2 152.7 L225.7 152.8 L227.2 152.9 L228.7 153.1 L230.2 153.3 L231.7 153.5 L233.2 153.7 L234.7 154.0 L236.2 154.3 L237.7 154.5 L239.2 154.8 L240.6 155.1 L242.1 155.3 L243.6 155.6 L245.1 155.9 L246.5 156.2 L248.0 156.5 L249.5 156.9 L250.9 157.2 L252.4 157.6 L253.9 158.0 L255.3 158.4 L256.8 158.8 L258.2 159.2 L259.7 159.6 L261.1 160.1 L262.6 160.5 L264.0 160.9 L265.4 161.4 L266.9 161.9 L268.3 162.4 L269.7 162.9 L271.1 163.4 L272.5 164.0 L273.9 164.5 L275.3 165.0 L276.7 165.6 L278.1 166.1 L279.5 166.7 L280.9 167.3 L282.3 167.8 L283.7 168.4 L285.1 169.0 L286.5 169.6 L287.9 170.2 L289.3 170.8 L290.7 171.4 L292.0 172.0 L293.4 172.6 L294.8 173.2 L296.2 173.8 L297.5 174.5 L298.9 175.1 L300.2 175.8 L301.6 176.4 L302.9 177.1 L304.3 177.8 L305.6 178.5 L306.9 179.2 L308.2 180.0 L309.5 180.7 L310.9 181.4 L312.2 182.2 L313.5 182.9 L314.8 183.7 L316.1 184.4 L317.4 185.2 L318.7 185.9 L320.0 186.7 L321.3 187.4 L322.7 188.2 L324.0 188.9 L325.3 189.6 L326.6 190.4 L327.9 191.1 L329.2 191.8 L330.5 192.6 L331.8 193.4 L333.1 194.1 L334.4 194.9 L335.7 195.6 L337.0 196.4 L338.3 197.2 L339.6 197.9 L340.9 198.7" stroke="#00ff00" stroke-width="3.6" stroke-dasharray="1.9 3.7" stroke-dashoffset="0.00"/>
<path d="M340.9 198.7 L342.2 199.5 L343.5 200.3 L344.8 201.1 L346.1 201.9 L347.3 202.7 L348.6 203.5 L349.8 204.3 L351.1 205.2 L352.3 206.0 L353.6 206.9 L354.8 207.7 L356.0 208.6 L357.3 209.5 L358.5 210.4 L359.7 211.2 L360.9 212.1 L362.1 213.0 L363.4 213.9 L364.6 214.8 L365.8 215.7 L366.9 216.7 L368.1 217.6 L369.3 218.6 L370.5 219.5 L371.6 220.5 L372.8 221.4 L374.0 222.4 L375.1 223.3 L376.3 224.3 L377.5 225.2 L378.7 226.1 L379.9 227.0 L381.2 227.8 L382.4 228.6 L383.7 229.5 L384.9 230.3 L386.2 231.1 L387.5 231.9 L388.8 232.7 L390.1 233.5 L391.4 234.2 L392.7 235.0 L394.0 235.8 L395.2 236.6 L396.5 237.3 L397.8 238.1 L399.1 238.9 L400.4 239.7 L401.7 240.4 L403.0 241.2 L404.4 241.9 L405.7 242.7 L407.0 243.4 L408.3 244.1 L409.7 244.7 L411.0 245.4 L412.4 246.0 L413.8 246.6 L415.1 247.2 L416.5 247.8 L417.9 248.4 L419.3 248.9 L420.7 249.5 L422.1 250.0 L423.6 250.6 L425.0 251.1 L426.4 251.6 L427.8 252.1 L429.2 252.6 L430.7 253.1 L432.1 253.5 L433.5 254.0 L435.0 254.4 L436.4 254.9 L437.9 255.3 L439.3 255.7 L440.8 256.2 L442.2 256.6 L443.7 257.0 L445.1 257.3 L446.6 257.7 L448.1 258.1 L449.5 258.4 L451.0 258.8 L452.5 259.1 L453.9 259.4 L455.4 259.7 L456.9 260.0 L458.4 260.3 L459.8 260.6 L461.3 260.9 L462.8 261.2 L464.3 261.5 L465.8 261.8 L467.3 262.0 L468.8 262.2 L470.3 262.4 L471.8 262.5 L473.2 262.6 L474.7 262.7 L476.2 262.7 L477.7 262.8 L479.3 262.8 L480.8 262.9 L482.3 262.9 L483.8 262.9 L485.3 263.0 L486.8 263.0 L488.3 263.0 L489.8 263.1 L491.3 263.1 L492.8 263.2 L494.3 263.2 L495.8 263.3 L497.3 263.4 L498.8 263.4 L500.3 263.5 L501.9 263.5 L503.4 263.6 L504.9 263.6 L506.4 263.7 L507.9 263.8 L509.4 263.8 L510.9 263.9 L512.4 263.9 L513.9 264.0 L515.4 264.1 L516.9 264.1 L518.4 264.2 L519.9 264.3 L521.4 264.3 L522.9 264.4 L524.4 264.5 L525.9 264.5 L527.4 264.6 L528.9 264.7 L530.5 264.7 L532.0 264.8 L533.5 264.9 L535.0 265.0 L536.5 265.0 L538.0 265.1 L539.5 265.2 L541.0 265.3 L542.5 265.4 L544.0 265.4 L545.5 265.5 L547.0 265.6" stroke="#00ff00" stroke-width="3.6" stroke-dasharray="2.7 2.9" stroke-dashoffset="1.38"/>
<path d="M76.5 256.1 L78.0 256.1 L79.5 256.1 L81.0 256.1 L82.5 256.1 L84.0 256.1 L85.5 256.1 L87.0 256.1 L88.5 256.1 L90.1 256.1 L91.6 256.1 L93.1 256.1 L94.6 256.1 L96.1 256.1 L97.6 256.1 L99.1 256.0 L100.6 256.0 L102.1 256.0 L103.6 256.0 L105.1 256.0 L106.6 256.0 L108.1 256.0 L109.6 256.0 L111.1 256.0 L112.6 256.0 L114.1 256.0 L115.6 256.0 L117.2 255.9 L118.7 255.9 L120.2 255.9 L121.7 255.9 L123.2 255.9 L124.7 255.9 L126.2 255.9 L127.7 255.9 L129.2 255.8 L130.7 255.8 L132.2 255.8 L133.7 255.8 L135.2 255.8 L136.7 255.8 L138.2 255.8 L139.7 255.7 L141.2 255.7 L142.7 255.7 L144.3 255.7 L145.8 255.7 L147.3 255.7 L148.8 255.7 L150.3 255.6 L151.8 255.6 L153.3 255.6 L154.8 255.6 L156.3 255.6 L157.8 255.6 L159.3 255.5 L160.8 255.5 L162.3 255.5 L163.8 255.5 L165.3 255.5 L166.8 255.5 L168.3 255.4 L169.8 255.4 L171.4 255.4 L172.9 255.4 L174.4 255.4 L175.9 255.3 L177.4 255.3 L178.9 255.3 L180.4 255.3 L181.9 255.3 L183.4 255.2 L184.9 255.2 L186.4 255.2 L187.9 255.1 L189.4 255.1 L190.9 255.1 L192.5 255.0 L194.0 255.0 L195.5 255.0 L197.0 254.9 L198.5 254.9 L200.0 254.9 L201.5 254.8 L203.0 254.8 L204.5 254.8 L206.0 254.8 L207.5 254.8 L209.0 254.9 L210.4 255.1 L211.9 255.3 L213.4 255.6 L214.9 255.9 L216.4 256.3 L217.8 256.7 L219.3 257.0 L220.8 257.4 L222.3 257.7 L223.7 258.0 L225.2 258.3 L226.7 258.6 L228.2 259.0 L229.7 259.3 L231.2 259.6 L232.7 260.0 L234.1 260.3 L235.6 260.7 L237.0 261.1 L238.5 261.5 L239.9 262.0 L241.3 262.4 L242.7 262.9 L244.0 263.5 L245.3 264.2 L246.7 264.9 L248.0 265.6 L249.3 266.4 L250.6 267.2 L251.9 268.0 L253.1 268.9 L254.4 269.7 L255.7 270.5 L257.0 271.4 L258.2 272.2 L259.5 273.0 L260.8 273.8 L262.0 274.6 L263.3 275.4 L264.5 276.3 L265.8 277.1 L267.0 278.0 L268.3 278.9 L269.5 279.7 L270.7 280.6 L271.9 281.5 L273.1 282.4 L274.3 283.3 L275.5 284.2 L276.7 285.2 L277.9 286.1 L279.0 287.1 L280.1 288.1 L281.2 289.1 L282.3 290.1 L283.4 291.2 L284.5 292.2 L285.6 293.3 L286.6 294.3 L287.7 295.4 L288.8 296.4 L289.9 297.4 L291.1 298.4 L292.2 299.4 L293.4 300.3 L294.6 301.3 L295.8 302.2 L297.0 303.1 L298.2 304.0 L299.4 305.0 L300.5 305.9 L301.6 306.9 L302.7 307.9 L303.9 308.9 L305.0 310.0 L306.0 311.0 L307.1 312.0 L308.2 313.1 L309.3 314.2 L310.4 315.2 L311.4 316.3 L312.5 317.4 L313.5 318.5 L314.6 319.6 L315.6 320.7 L316.6 321.7 L317.7 322.9 L318.7 324.0 L319.7 325.1 L320.7 326.2 L321.7 327.3 L322.7 328.4 L323.8 329.5 L324.8 330.6 L325.8 331.8 L326.8 332.9 L327.8 334.0 L328.7 335.2 L329.7 336.3 L330.7 337.5 L331.7 338.6 L332.6 339.8 L333.6 341.0 L334.5 342.1 L335.4 343.3 L336.4 344.5 L337.3 345.7 L338.2 346.9 L339.1 348.1 L339.9 349.3 L340.8 350.6 L341.6 351.8 L342.5 353.1 L343.3 354.3 L344.1 355.6 L344.9 356.8 L345.8 358.1 L346.6 359.4 L347.4 360.7 L348.2 361.9 L349.0 363.2 L349.8 364.5 L350.7 365.7 L351.5 367.0 L352.3 368.2 L353.1 369.5 L354.0 370.8 L354.8 372.0 L355.6 373.3 L356.5 374.5 L357.3 375.8 L358.1 377.1 L358.9 378.3 L359.7 379.6 L360.5 380.9 L361.3 382.1 L362.1 383.4 L362.9 384.7 L363.7 386.0 L364.5 387.3 L365.2 388.6 L365.9 389.9 L366.6 391.2 L367.3 392.6 L368.0 393.9 L368.8 395.2 L369.5 396.6 L370.2 397.9 L371.0 399.1 L371.8 400.4 L372.7 401.6 L373.5 402.9 L374.4 404.1 L375.3 405.3 L376.2 406.5 L377.1 407.7 L378.1 408.9 L379.0 410.1 L379.9 411.3 L380.9 412.4 L381.8 413.6 L382.8 414.8 L383.7 416.0 L384.6 417.1 L385.6 418.3 L386.6 419.5 L387.5 420.6 L388.5 421.8 L389.5 422.9 L390.5 424.1 L391.4 425.2 L392.4 426.3 L393.4 427.5 L394.5 428.6 L395.5 429.7 L396.5 430.8 L397.5 431.9 L398.6 433.0 L399.6 434.1 L400.6 435.2 L401.7 436.3 L402.7 437.4 L403.8 438.5 L404.9 439.6 L405.9 440.6 L407.0 441.6 L408.1 442.7 L409.2 443.7 L410.4 444.6 L411.5 445.6 L412.7 446.5 L413.8 447.4 L415.0 448.4 L416.2 449.3 L417.5 450.1 L418.7 451.0 L419.9 451.9 L421.2 452.7 L422.5 453.6 L423.7 454.4 L425.0 455.2 L426.3 456.0 L427.6 456.7 L428.9 457.5 L430.2 458.2 L431.6 458.9 L432.9 459.6 L434.2 460.3 L435.6 461.0 L436.9 461.6 L438.3 462.2 L439.7 462.9 L441.1 463.5 L442.5 464.0 L443.8 464.6 L445.2 465.2 L446.6 465.8 L448.0 466.3 L449.4 466.9 L450.9 467.4 L452.3 467.9 L453.7 468.4 L455.1 468.9 L456.5 469.4 L458.0 469.9 L459.4 470.4 L460.8 470.9 L462.2 471.5 L463.6 472.1 L465.0 472.7 L466.3 473.3 L467.7 474.0 L469.0 474.7 L470.3 475.4 L471.6 476.1 L472.9 476.9 L474.2 477.7 L475.5 478.5" stroke="#ff0000" stroke-width="1.5" stroke-dasharray="25 7.31" stroke-dashoffset="0.00"/>
<path d="M475.5 478.5 L477.0 478.5 L478.6 478.5 L480.1 478.6 L481.7 478.6 L483.2 478.6 L484.8 478.6 L486.3 478.7 L487.8 478.7 L489.4 478.7 L490.9 478.7 L492.5 478.8 L494.0 478.8 L495.6 478.8 L497.1 478.8 L498.6 478.8 L500.2 478.9 L501.7 478.9 L503.3 478.9 L504.8 478.9 L506.4 479.0 L507.9 479.0 L509.5 479.0 L511.0 479.0 L512.5 479.0 L514.1 479.0 L515.6 479.0 L517.2 479.1 L518.7 479.1 L520.3 479.1 L521.8 479.1 L523.3 479.1 L524.9 479.1 L526.4 479.2 L528.0 479.2 L529.5 479.2 L531.1 479.2 L532.6 479.3 L534.1 479.3 L535.7 479.4 L537.2 479.5 L538.8 479.5 L540.3 479.6 L541.9 479.8 L543.4 479.9 L544.9 480.1 L546.5 480.2 L548.0 480.4 L549.5 480.6 L551.1 480.8 L552.6 481.0 L554.1 481.4 L555.6 481.8 L557.1 482.2 L558.4 482.8 L559.7 483.5 L561.0 484.4 L562.3 485.3 L563.5 486.4 L564.6 487.6" stroke="#ff0000" stroke-width="1.5" stroke-dasharray="25 7.31" stroke-dashoffset="6.62"/>
<path d="M76.5 233.3 L78.0 233.3 L79.5 233.3 L81.0 233.3 L82.5 233.3 L84.0 233.3 L85.5 233.3 L87.1 233.3 L88.6 233.3 L90.1 233.3 L91.6 233.3 L93.1 233.3 L94.6 233.3 L96.1 233.3 L97.6 233.3 L99.1 233.3 L100.6 233.3 L102.1 233.3 L103.6 233.3 L105.1 233.2 L106.6 233.2 L108.2 233.2 L109.7 233.2 L111.2 233.2 L112.7 233.2 L114.2 233.2 L115.7 233.2 L117.2 233.2 L118.7 233.2 L120.2 233.2 L121.7 233.2 L123.2 233.2 L124.7 233.1 L126.2 233.1 L127.7 233.1 L129.2 233.1 L130.8 233.1 L132.3 233.1 L133.8 233.1 L135.3 233.1 L136.8 233.1 L138.3 233.0 L139.8 233.0 L141.3 233.0 L142.8 233.0 L144.3 233.0 L145.8 233.0 L147.3 233.0 L148.8 233.0 L150.3 232.9 L151.8 232.9 L153.3 232.9 L154.9 232.9 L156.4 232.9 L157.9 232.9 L159.4 232.8 L160.9 232.8 L162.4 232.8 L163.9 232.8 L165.4 232.8 L166.9 232.8 L168.4 232.7 L169.9 232.7 L171.4 232.7 L172.9 232.7 L174.4 232.7 L175.9 232.7 L177.4 232.6 L179.0 232.6 L180.5 232.6 L182.0 232.6 L183.5 232.5 L185.0 232.5 L186.5 232.4 L188.0 232.3 L189.5 232.3 L191.0 232.2 L192.5 232.1 L194.1 232.0 L195.6 232.0 L197.1 231.9 L198.6 231.8 L200.1 231.7 L201.6 231.7 L203.1 231.7 L204.6 231.6 L206.1 231.6 L207.6 231.6 L209.0 231.7 L210.5 231.9 L212.0 232.2 L213.5 232.6 L214.9 233.0 L216.4 233.4 L217.9 233.8 L219.3 234.3 L220.8 234.7 L222.2 235.0 L223.7 235.4 L225.2 235.8 L226.6 236.2 L228.1 236.6 L229.5 237.0 L231.0 237.4 L232.4 237.9 L233.9 238.3 L235.3 238.7 L236.8 239.2 L238.2 239.7 L239.6 240.2 L241.0 240.7 L242.4 241.2 L243.8 241.7 L245.2 242.2 L246.6 242.8 L248.0 243.4 L249.4 244.0 L250.8 244.6 L252.2 245.2 L253.5 245.8 L254.9 246.5 L256.3 247.1 L257.6 247.8 L259.0 248.5 L260.3 249.2 L261.7 249.8 L263.0 250.5 L264.4 251.2 L265.7 251.9 L267.1 252.6 L268.4 253.3 L269.7 254.0 L271.1 254.8 L272.4 255.5 L273.7 256.3 L274.9 257.1 L276.2 257.9 L277.4 258.8 L278.6 259.7 L279.7 260.6 L280.9 261.5 L282.0 262.5 L283.2 263.5 L284.3 264.6 L285.4 265.6 L286.4 266.7 L287.5 267.8 L288.6 268.9 L289.6 270.0 L290.6 271.1 L291.7 272.2 L292.7 273.3 L293.6 274.4 L294.6 275.6 L295.5 276.8 L296.5 278.0 L297.4 279.2 L298.3 280.4 L299.2 281.5 L300.2 282.7 L301.1 283.9 L302.1 285.1 L303.0 286.3 L304.0 287.4 L304.9 288.6 L305.9 289.8 L306.8 290.9 L307.8 292.1 L308.7 293.3 L309.6 294.5 L310.6 295.7 L311.5 296.9 L312.3 298.1 L313.2 299.3 L314.1 300.5 L314.9 301.8 L315.8 303.0 L316.6 304.3 L317.5 305.5 L318.3 306.8 L319.1 308.1 L319.9 309.3 L320.8 310.6 L321.5 311.9 L322.3 313.2 L323.1 314.5 L323.9 315.8 L324.6 317.1 L325.3 318.4 L326.1 319.7 L326.8 321.0 L327.5 322.4 L328.2 323.7 L328.8 325.0 L329.5 326.4 L330.2 327.7 L330.8 329.1 L331.5 330.5 L332.1 331.8 L332.8 333.2 L333.4 334.6 L334.0 335.9 L334.6 337.3 L335.3 338.7 L335.9 340.1 L336.5 341.4 L337.1 342.8 L337.7 344.2 L338.4 345.6 L339.0 346.9 L339.6 348.3 L340.2 349.7 L340.8 351.1 L341.4 352.5 L342.0 353.8 L342.6 355.2 L343.1 356.6 L343.7 358.0 L344.3 359.4 L344.9 360.8 L345.5 362.2 L346.1 363.6 L346.6 365.0 L347.2 366.4 L347.8 367.7 L348.4 369.1 L349.0 370.5 L349.6 371.9 L350.2 373.3 L350.8 374.7 L351.4 376.0 L352.0 377.4 L352.6 378.8 L353.2 380.2 L353.8 381.6 L354.4 383.0 L355.0 384.3 L355.6 385.7 L356.2 387.1 L356.8 388.5 L357.4 389.8 L358.1 391.2 L358.7 392.6 L359.3 394.0 L359.9 395.3 L360.5 396.7 L361.2 398.1 L361.8 399.4 L362.4 400.8 L363.1 402.2 L363.7 403.5 L364.4 404.9 L365.0 406.3 L365.7 407.6 L366.3 409.0 L367.0 410.4 L367.6 411.7 L368.3 413.1 L369.0 414.4 L369.6 415.8 L370.3 417.1 L371.0 418.5 L371.7 419.8 L372.4 421.1 L373.1 422.4 L373.9 423.8 L374.6 425.1 L375.4 426.4 L376.1 427.6 L376.9 428.9 L377.7 430.2 L378.5 431.5 L379.3 432.8 L380.1 434.1 L380.9 435.3 L381.8 436.6 L382.6 437.8 L383.5 439.1 L384.4 440.3 L385.3 441.5 L386.2 442.7 L387.1 443.9 L388.0 445.1 L389.0 446.2 L389.9 447.4 L390.9 448.5 L391.9 449.7 L392.9 450.8 L393.9 452.0 L394.9 453.1 L396.0 454.2 L397.0 455.3 L398.1 456.4 L399.2 457.5 L400.2 458.5 L401.3 459.5 L402.5 460.5 L403.6 461.5 L404.7 462.4 L405.9 463.4 L407.0 464.3 L408.2 465.3 L409.5 466.2 L410.7 467.1 L411.9 468.0 L413.2 468.8 L414.5 469.7 L415.7 470.5 L417.0 471.3 L418.3 472.0 L419.6 472.7 L421.0 473.4 L422.3 474.0 L423.6 474.7 L425.0 475.3 L426.4 475.9 L427.8 476.5 L429.2 477.1 L430.6 477.7 L432.0 478.2 L433.4 478.8 L434.9 479.3 L436.3 479.8 L437.7 480.2 L439.2 480.7 L440.6 481.1 L442.0 481.5 L443.5 481.9 L445.0 482.3 L446.4 482.6 L447.9 482.9 L449.4 483.3 L450.8 483.6 L452.3 483.9 L453.8 484.2 L455.3 484.5 L456.8 484.8 L458.2 485.1 L459.7 485.4 L461.2 485.7 L462.7 486.1 L464.1 486.4 L465.6 486.8 L467.1 487.1 L468.5 487.4 L470.0 487.8 L471.5 488.1 L472.9 488.5 L474.4 488.8" stroke="#ff00ff" stroke-width="1.5" stroke-dasharray="2 3.89 9.5 3.89" stroke-dashoffset="0.70"/>
<path d="M474.4 488.8 L475.9 488.8 L477.5 488.9 L479.0 488.9 L480.5 489.0 L482.1 489.0 L483.6 489.1 L485.1 489.1 L486.7 489.1 L488.2 489.2 L489.7 489.2 L491.3 489.3 L492.8 489.3 L494.3 489.3 L495.9 489.4 L497.4 489.4 L498.9 489.4 L500.5 489.5 L502.0 489.5 L503.5 489.5 L505.1 489.5 L506.6 489.6 L508.1 489.6 L509.7 489.6 L511.2 489.6 L512.8 489.6 L514.3 489.7 L515.8 489.7 L517.4 489.7 L518.9 489.7 L520.4 489.7 L522.0 489.7 L523.5 489.8 L525.0 489.8 L526.6 489.8 L528.1 489.9 L529.6 489.9 L531.2 489.9 L532.7 490.0 L534.2 490.0 L535.7 490.2 L537.2 490.3 L538.8 490.6 L540.3 490.9 L541.8 491.2 L543.3 491.5 L544.8 491.9 L546.3 492.2 L547.8 492.6 L549.2 493.0 L550.7 493.5 L552.1 494.1 L553.5 494.7 L554.9 495.3 L556.3 496.0 L557.7 496.7" stroke="#ff00ff" stroke-width="1.5" stroke-dasharray="2 3.89 9.5 3.89" stroke-dashoffset="4.78"/>
<path d="M76.5 283.6 L546.4 283.6" stroke="#0000ff" stroke-width="3.6" stroke-linecap="round"/>
<path d="M76.5 283.6 L547.0 283.6" stroke="#00ff00" stroke-width="3.6" stroke-dasharray="1.9 3.7" stroke-dashoffset="0.00"/>
<path d="M76.5 593.9 L564.0 593.9" stroke="#ff0000" stroke-width="1.5" stroke-dasharray="24.8 7.25" stroke-dashoffset="0.00"/>
<path d="M76.5 612.3 L558.5 612.3" stroke="#ff00ff" stroke-width="1.5" stroke-dasharray="2 3.89 9.5 3.89" stroke-dashoffset="0.70"/>
</g>
<g stroke="#000" stroke-width="2.2" stroke-dasharray="2.1 3.478" fill="none">
<path d="M207.0 470.1 V11.3"/>
<path d="M207.0 569.35 V667.0"/>
<path d="M277.0 470.1 V11.3"/>
<path d="M277.0 569.35 V667.0"/>
</g>
<g stroke="#000" fill="none">
<rect x="76.4" y="11.3" width="501.6" height="655.8" stroke-width="1.65" stroke-linejoin="round"/>
<path d="M96.46 11.3 v8.0 M96.46 667.0 v-8.0 M116.53 11.3 v8.0 M116.53 667.0 v-8.0 M136.59 11.3 v8.0 M136.59 667.0 v-8.0 M156.66 11.3 v17.0 M156.66 667.0 v-17.0 M176.72 11.3 v8.0 M176.72 667.0 v-8.0 M196.78 11.3 v8.0 M196.78 667.0 v-8.0 M216.85 11.3 v8.0 M216.85 667.0 v-8.0 M236.91 11.3 v8.0 M236.91 667.0 v-8.0 M256.98 11.3 v17.0 M256.98 667.0 v-17.0 M277.04 11.3 v8.0 M277.04 667.0 v-8.0 M297.10 11.3 v8.0 M297.10 667.0 v-8.0 M317.17 11.3 v8.0 M317.17 667.0 v-8.0 M337.23 11.3 v8.0 M337.23 667.0 v-8.0 M357.30 11.3 v17.0 M357.30 667.0 v-17.0 M377.36 11.3 v8.0 M377.36 667.0 v-8.0 M397.42 11.3 v8.0 M397.42 667.0 v-8.0 M417.49 11.3 v8.0 M417.49 667.0 v-8.0 M437.55 11.3 v8.0 M437.55 667.0 v-8.0 M457.62 11.3 v17.0 M457.62 667.0 v-17.0 M477.68 11.3 v8.0 M477.68 667.0 v-8.0 M497.74 11.3 v8.0 M497.74 667.0 v-8.0 M517.81 11.3 v8.0 M517.81 667.0 v-8.0 M537.87 11.3 v8.0 M537.87 667.0 v-8.0 M557.94 11.3 v17.0 M557.94 667.0 v-17.0 M76.4 623.33 h8.0 M578.0 623.33 h-8.0 M76.4 579.62 h17.0 M578.0 579.62 h-17.0 M76.4 535.90 h8.0 M578.0 535.90 h-8.0 M76.4 492.18 h8.0 M578.0 492.18 h-8.0 M76.4 448.47 h8.0 M578.0 448.47 h-8.0 M76.4 404.75 h8.0 M578.0 404.75 h-8.0 M76.4 361.03 h17.0 M578.0 361.03 h-17.0 M76.4 317.32 h8.0 M578.0 317.32 h-8.0 M76.4 273.60 h8.0 M578.0 273.60 h-8.0 M76.4 229.88 h8.0 M578.0 229.88 h-8.0 M76.4 186.17 h8.0 M578.0 186.17 h-8.0 M76.4 142.45 h17.0 M578.0 142.45 h-17.0 M76.4 98.73 h8.0 M578.0 98.73 h-8.0 M76.4 55.02 h8.0 M578.0 55.02 h-8.0" stroke-width="1.6"/>
</g>
<g fill="none">
<path d="M115.9 525.1 H206.9" stroke="#0000ff" stroke-width="3.6"/>
<path d="M246.5 525.1 H338" stroke="#00ff00" stroke-width="3.6" stroke-dasharray="2 3.6"/>
<path d="M115.9 553.7 H207" stroke="#ff0000" stroke-width="1.5" stroke-dasharray="24.9 7.3"/>
<path d="M245.4 553.7 H337.6" stroke="#ff00ff" stroke-width="1.5" stroke-dasharray="2 3.93 9.5 3.93" stroke-dashoffset="18.3"/>
</g>
<g>
<text transform="translate(155.6 698.9) scale(1.100 1)" font-size="25" text-anchor="middle" stroke="#000" stroke-width="0.30">11</text>
<text transform="translate(258.5 698.9) scale(1.100 1)" font-size="25" text-anchor="middle" stroke="#000" stroke-width="0.30" letter-spacing="1.40">12</text>
<text transform="translate(358.8 698.9) scale(1.100 1)" font-size="25" text-anchor="middle" stroke="#000" stroke-width="0.30" letter-spacing="1.40">13</text>
<text transform="translate(459.1 698.9) scale(1.100 1)" font-size="25" text-anchor="middle" stroke="#000" stroke-width="0.30" letter-spacing="1.40">14</text>
<text transform="translate(559.4 698.9) scale(1.100 1)" font-size="25" text-anchor="middle" stroke="#000" stroke-width="0.30" letter-spacing="1.40">15</text>
<text transform="translate(61.2 588.0) scale(1.100 1)" font-size="25" text-anchor="end" stroke="#000" stroke-width="0.30">7</text>
<text transform="translate(61.2 369.4) scale(1.100 1)" font-size="25" text-anchor="end" stroke="#000" stroke-width="0.30">8</text>
<text transform="translate(61.2 150.8) scale(1.100 1)" font-size="25" text-anchor="end" stroke="#000" stroke-width="0.30">9</text>
<text transform="translate(239.9 73.8) scale(1.200 1)" font-size="25" text-anchor="middle" stroke="#000" stroke-width="0.30">4</text>
<text transform="translate(239.9 192.6) scale(1.200 1)" font-size="25" text-anchor="middle" stroke="#000" stroke-width="0.30">2</text>
<text transform="translate(239.9 318.0) scale(1.100 1)" font-size="25" text-anchor="middle" stroke="#000" stroke-width="0.30">0</text>
<text transform="translate(535.5 412.0) scale(1.200 1)" font-size="25" text-anchor="middle" stroke="#000" stroke-width="0.30">4</text>
<text transform="translate(536.0 514.4) scale(1.200 1)" font-size="25" text-anchor="middle" stroke="#000" stroke-width="0.30">2</text>
<text transform="translate(535.5 579.4) scale(1.100 1)" font-size="25" text-anchor="middle" stroke="#000" stroke-width="0.30">0</text>
<text transform="translate(109.6 508.4) scale(1.000 1)" font-size="26" text-anchor="start" stroke="#000" stroke-width="0.30" letter-spacing="1.80">SC+HHJ</text>
<text transform="translate(252.2 508.4) scale(1.050 1)" font-size="26" text-anchor="start" stroke="#000" stroke-width="0.30" letter-spacing="1.35">BSk21</text>
<text transform="translate(358.9 528.0) scale(1.120 1)" font-size="25" text-anchor="start" stroke="#000" stroke-width="0.30" letter-spacing="1.55">1.40</text>
<text transform="translate(423.5 528.0) scale(0.920 1)" font-size="25" text-anchor="start" stroke="#000" stroke-width="0.30" class="i">M</text>
<circle cx="452" cy="530.4" r="5.2" fill="none" stroke="#000" stroke-width="1.3"/>
<circle cx="452" cy="530.4" r="1.2" fill="#000"/>
<text transform="translate(358.9 558.3) scale(1.120 1)" font-size="25" text-anchor="start" stroke="#000" stroke-width="0.30" letter-spacing="1.55">1.85</text>
<text transform="translate(423.5 558.3) scale(0.920 1)" font-size="25" text-anchor="start" stroke="#000" stroke-width="0.30" class="i">M</text>
<circle cx="452" cy="560.7" r="5.2" fill="none" stroke="#000" stroke-width="1.3"/>
<circle cx="452" cy="560.7" r="1.2" fill="#000"/>
<text transform="translate(222.0 732.8) scale(1.020 1)" font-size="27" text-anchor="start" stroke="#000" stroke-width="0.30" letter-spacing="1.30">log</text>
<text transform="translate(257.5 739.6) scale(1.290 1)" font-size="17.5" text-anchor="start" stroke="#000" stroke-width="0.30">10</text>
<text transform="translate(291.6 732.8) scale(1.220 1)" font-size="27" text-anchor="start" stroke="#000" stroke-width="0.30" class="i">ρ</text>
<text transform="translate(321.0 732.8) scale(1.100 1)" font-size="27" text-anchor="start" stroke="#000" stroke-width="0.30">(g</text>
<text transform="translate(359.2 732.8) scale(1.150 1)" font-size="27" text-anchor="start" stroke="#000" stroke-width="0.30" letter-spacing="3.00">cm</text>
<text transform="translate(401.8 725.5) scale(1.210 1)" font-size="17" text-anchor="start" stroke="#000" stroke-width="0.30">−3</text>
<text transform="translate(423.7 732.8) scale(1.100 1)" font-size="27" text-anchor="start" stroke="#000" stroke-width="0.30">)</text>
<g transform="translate(24.3 415.8) rotate(-90)">
<text transform="translate(-1.5 0.0) scale(1.020 1)" font-size="27" text-anchor="start" stroke="#000" stroke-width="0.30" letter-spacing="1.30">log</text>
<text transform="translate(36.0 8.3) scale(1.290 1)" font-size="17.5" text-anchor="start" stroke="#000" stroke-width="0.30">10</text>
<text transform="translate(67.2 0.0) scale(0.970 1)" font-size="27" text-anchor="start" stroke="#000" stroke-width="0.30" class="i">T</text>
<text transform="translate(85.3 -10.5) scale(1.070 1)" font-size="19" text-anchor="start" stroke="#000" stroke-width="0.30">∞</text>
<text transform="translate(116.0 0.0) scale(1.100 1)" font-size="27" text-anchor="start" stroke="#000" stroke-width="0.30">(</text>
<text transform="translate(127.1 0.0) scale(0.830 1)" font-size="27" text-anchor="start" stroke="#000" stroke-width="0.30">K</text>
<text transform="translate(144.2 0.0) scale(1.100 1)" font-size="27" text-anchor="start" stroke="#000" stroke-width="0.30">)</text>
</g>
</g>
</svg></body></html>
